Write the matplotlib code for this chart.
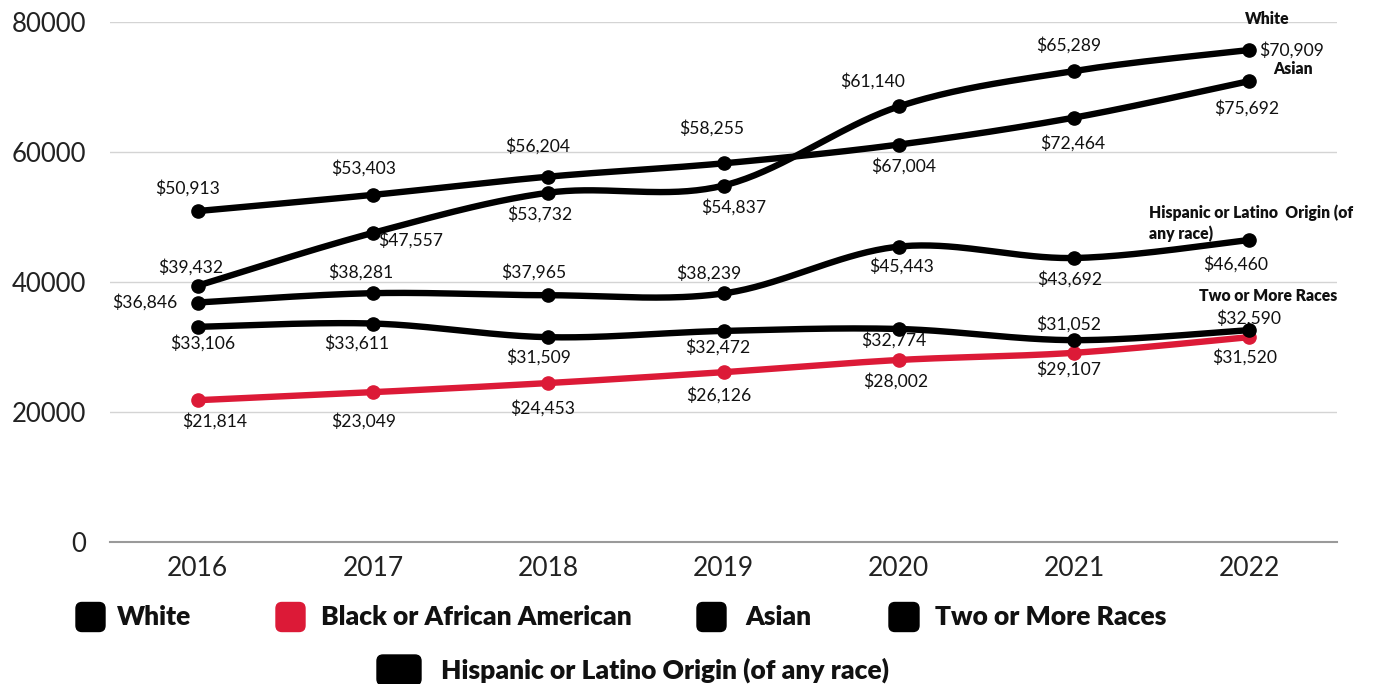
import numpy as np
import matplotlib
matplotlib.use("Agg")
import matplotlib.pyplot as plt
from matplotlib.patches import FancyBboxPatch

# ---------------- data ----------------
years = ["2016", "2017", "2018", "2019", "2020", "2021", "2022"]
series_names = ["White", "Black or African American", "Asian", "Two or More Races",
                "Hispanic or Latino Origin (of any race)"]
white = [50913, 53403, 56204, 58255, 61140, 65289, 70909]
black = [21814, 23049, 24453, 26126, 28002, 29107, 31520]
asian = [39432, 47557, 53732, 54837, 67004, 72464, 75692]
two_more = [33106, 33611, 31509, 32472, 32774, 31052, 32590]
hispanic = [36846, 38281, 37965, 38239, 45443, 43692, 46460]
yticks = [0, 20000, 40000, 60000, 80000]

# ---------------- styles ----------------
BLACK = "#000000"
RED = "#DC1A37"
colors = [BLACK, RED, BLACK, BLACK, BLACK]
# label offsets (pixels, x right / y down) from each data point
offsets = {
    "white": [(-10, -23), (-9, -27), (-11, -30), (-12, -35), (-26, -63), (-5, -72), (42, -31)],
    "asian": [(-7, -19), (38, 7), (-8, 21), (10, 22), (5, 60), (-1, 72), (-3, 58)],
    "hisp": [(-53, 0), (-12, -21), (-14, -23), (-15, -20), (3, 20), (-4, 21), (-14, 24)],
    "two": [(5, 16), (-16, 20), (-10, 20), (-6, 16), (-5, 11), (-5, -16), (-1, -12)],
    "black": [(17, 21), (-9, 29), (-6, 25), (-5, 23), (-3, 21), (-5, 16), (-5, 20)],
}

W, H = 1380, 684
fig = plt.figure(figsize=(W / 100, H / 100), dpi=100)
ax = fig.add_axes([110 / W, 1 - 542 / H, (1337 - 110) / W, 520 / H])
ax.set_xlim(-0.5, 6.5)
ax.set_ylim(0, 80000)


def smooth(xs, ys, n=40):
    P = np.column_stack([xs, ys]).astype(float)
    Pe = np.vstack([P[0], P, P[-1]])
    out = []
    for i in range(len(P) - 1):
        p0, p1, p2, p3 = Pe[i], Pe[i + 1], Pe[i + 2], Pe[i + 3]
        c1 = p1 + (p2 - p0) / 6.0
        c2 = p2 - (p3 - p1) / 6.0
        t = np.linspace(0, 1, n)[:, None]
        seg = ((1 - t) ** 3) * p1 + 3 * ((1 - t) ** 2) * t * c1 + 3 * (1 - t) * t ** 2 * c2 + t ** 3 * p2
        out.append(seg if i == 0 else seg[1:])
    S = np.vstack(out)
    return S[:, 0], S[:, 1]


x = np.arange(len(years))
draw_order = [("black", black, RED), ("two", two_more, BLACK), ("hisp", hispanic, BLACK),
              ("asian", asian, BLACK), ("white", white, BLACK)]
for key, vals, col in draw_order:
    sx, sy = smooth(x, vals)
    ax.plot(sx, sy, color=col, lw=4.6, solid_capstyle="round", zorder=3)
    ax.plot(x, vals, "o", color=col, ms=9.5, zorder=4)
    for i, v in enumerate(vals):
        dx, dy = offsets[key][i]
        ax.annotate(f"${v:,}", xy=(i, v), xytext=(dx * 0.72, -dy * 0.72),
                    textcoords="offset points", ha="center", va="center",
                    fontsize=12.6, family="Lato", color="#111111", zorder=2)

# axes styling
ax.set_yticks(yticks)
ax.set_yticklabels([str(t) for t in yticks])
ax.set_xticks(x)
ax.set_xticklabels(years)
ax.yaxis.grid(True, color="#d4d4d4", lw=1.0, zorder=0)
ax.set_axisbelow(True)
for s in ["top", "right", "left"]:
    ax.spines[s].set_visible(False)
ax.spines["bottom"].set_color("#9a9a9a")
ax.spines["bottom"].set_linewidth(1.5)
ax.tick_params(axis="both", length=0)
ax.tick_params(axis="y", pad=17, labelsize=18.5, labelcolor="#222222")
ax.tick_params(axis="x", pad=10, labelsize=19, labelcolor="#222222")
for lab in ax.get_xticklabels() + ax.get_yticklabels():
    lab.set_family("Lato")


def ftext(px, py, s, **kw):
    fig.text(px / W, 1 - py / H, s, **kw)


# series name labels on the right
name_kw = dict(fontsize=11.3, family="Lato", fontweight="heavy", color="#111111", va="center")
ftext(1267, 19, "White", ha="center", **name_kw)
ftext(1293, 69, "Asian", ha="center", **name_kw)
ftext(1149, 213, "Hispanic or Latino  Origin (of", ha="left", **name_kw)
ftext(1149, 234, "any race)", ha="left", **name_kw)
ftext(1268, 296, "Two or More Races", ha="center", **name_kw)

# legend (manual)
legend_items = [
    (76, 617, 29, 29, 117),
    (276, 617, 29, 29, 321),
    (697, 617, 29, 29, 745),
    (889, 617, 30, 29, 935),
    (377, 670, 44, 30, 441),
]
for (mx, my, mw, mh, tx), name, col in zip(legend_items, series_names, colors):
    patch = FancyBboxPatch(((mx + 6) / 100, (H - my - mh / 2 + 6) / 100),
                           (mw - 12) / 100, (mh - 12) / 100,
                           boxstyle="round,pad=0.06",
                           transform=fig.dpi_scale_trans, facecolor=col, edgecolor=col)
    fig.add_artist(patch)
    ftext(tx, my, name, ha="left", va="center", fontsize=19, family="Lato",
          fontweight="heavy", color="#111111")

fig.savefig("out.png", dpi=100)
